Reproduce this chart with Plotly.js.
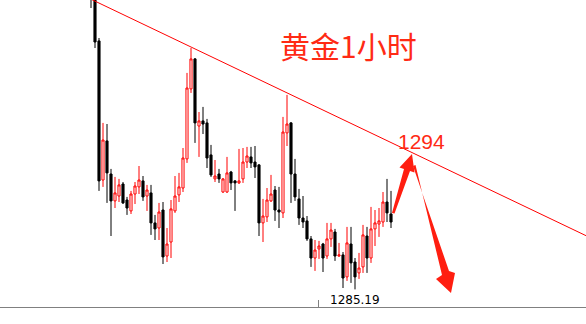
<!DOCTYPE html>
<html>
<head>
<meta charset="utf-8">
<script src="https://cdn.plot.ly/plotly-3.0.1.min.js"></script>
<style>html,body{margin:0;padding:0;background:#fff;}#chart{width:586px;height:324px;}</style>
</head>
<body>
<div id="chart"></div>
<script>
// Gold, 1-hour candles
const opens = [1304.98,1304.10,1301.34,1292.30,1294.84,1292.69,1290.94,1291.26,1292.04,1291.00,1290.29,1291.39,1291.85,1292.24,1291.26,1291.46,1289.51,1289.18,1290.35,1287.36,1288.27,1290.29,1291.33,1291.78,1293.67,1298.22,1300.17,1295.81,1296.14,1296.01,1293.93,1292.37,1292.69,1291.52,1291.52,1292.82,1292.24,1292.11,1292.37,1293.47,1293.80,1293.47,1293.28,1289.51,1289.90,1290.94,1291.65,1290.35,1290.16,1295.36,1296.01,1292.69,1291.07,1289.83,1289.64,1288.47,1287.23,1287.82,1288.14,1287.36,1288.47,1288.92,1287.36,1287.43,1286.00,1288.14,1286.97,1286.26,1286.65,1288.66,1287.23,1289.12,1289.44,1289.57,1290.87,1290.09];
const highs = [1305.63,1304.30,1301.53,1296.01,1295.94,1293.02,1292.50,1292.37,1292.17,1291.20,1291.59,1292.17,1293.21,1292.56,1291.98,1291.98,1290.03,1290.81,1290.87,1289.18,1291.00,1292.56,1292.76,1294.38,1299.26,1300.88,1300.23,1296.72,1297.05,1296.27,1294.58,1293.60,1293.02,1292.43,1293.80,1292.89,1292.30,1294.32,1294.38,1294.45,1294.45,1294.51,1293.34,1291.07,1291.78,1292.63,1291.91,1291.85,1296.40,1297.83,1296.07,1293.67,1291.72,1291.26,1289.96,1288.66,1288.40,1288.34,1288.21,1289.51,1289.51,1289.12,1288.21,1287.62,1289.25,1289.25,1287.23,1287.56,1289.38,1289.25,1290.55,1290.35,1290.48,1291.52,1292.37,1291.59];
const lows = [1303.48,1300.88,1291.59,1291.85,1290.81,1288.66,1290.48,1290.87,1290.74,1290.03,1290.09,1290.74,1291.39,1290.94,1290.29,1288.73,1288.40,1288.40,1286.84,1286.97,1287.23,1290.16,1290.87,1291.52,1293.41,1297.96,1294.71,1293.80,1295.29,1293.08,1292.50,1292.17,1292.11,1291.46,1291.46,1291.65,1290.29,1292.04,1292.11,1293.08,1293.08,1292.43,1288.66,1288.27,1289.57,1290.87,1289.64,1289.18,1289.83,1294.51,1290.81,1290.94,1289.38,1289.18,1288.34,1286.65,1286.39,1287.17,1286.32,1287.17,1287.95,1287.04,1287.30,1285.28,1285.74,1285.61,1285.19,1285.87,1286.26,1286.26,1286.91,1288.01,1288.60,1289.25,1289.57,1289.18];
const closes = [1304.20,1301.27,1292.24,1294.90,1292.76,1290.94,1291.46,1291.98,1290.81,1290.48,1291.39,1291.91,1292.30,1291.20,1291.65,1289.51,1289.12,1290.22,1287.30,1288.14,1290.42,1291.26,1291.85,1293.73,1298.28,1300.17,1296.01,1296.14,1295.94,1293.73,1292.63,1292.56,1292.37,1292.37,1292.76,1292.11,1292.11,1292.24,1293.47,1293.86,1293.41,1293.15,1289.51,1289.96,1291.00,1291.39,1290.35,1290.22,1295.42,1295.94,1292.69,1291.20,1289.83,1289.57,1288.47,1287.23,1287.75,1288.01,1287.23,1288.47,1289.05,1287.36,1287.43,1285.93,1288.21,1286.91,1286.00,1286.58,1288.73,1287.23,1289.12,1289.51,1289.64,1290.87,1290.16,1289.57];
const trendStart = [0, 1304.05];     // [bar index, price]
const trendEnd = [124, 1288.65];
const targetLevel = "1294";
const titleText = "黄金1小时";
const separatorBar = 56.75;

const idx = opens.map((_, i) => i);
const minLow = Math.min(...lows);
const minIdx = lows.indexOf(minLow);

const W = 586, PH = 307;
const P = (x, y) => (x / W).toFixed(5) + ',' + (1 - y / PH).toFixed(5);
const poly = pts => 'M ' + pts.map(p => P(p[0], p[1])).join(' L ') + ' Z';

const trace = {
  type: 'candlestick', x: idx, open: opens, high: highs, low: lows, close: closes,
  increasing: {line: {color: '#ff0000', width: 1}, fillcolor: '#ffffff'},
  decreasing: {line: {color: '#000000', width: 1}, fillcolor: '#000000'},
  whiskerwidth: 0, hoverinfo: 'skip', showlegend: false
};

const layout = {
  width: 586, height: 324,
  margin: {l: 0, r: 0, t: 0, b: 17},
  paper_bgcolor: '#ffffff', plot_bgcolor: '#ffffff',
  boxgap: 0.25,
  xaxis: {range: [-22.75, 123.75], showgrid: false, zeroline: false, showticklabels: false,
          showline: true, linecolor: '#808080', linewidth: 1,
          ticks: 'inside', tickvals: [separatorBar], ticklen: 7, tickcolor: '#808080',
          rangeslider: {visible: false}, fixedrange: true},
  yaxis: {range: [1284.045, 1304], showgrid: false, zeroline: false, showticklabels: false,
          showline: false, fixedrange: true},
  shapes: [
    {type: 'line', xref: 'x', yref: 'y', x0: trendStart[0], y0: trendStart[1],
     x1: trendEnd[0], y1: trendEnd[1], line: {color: '#ff0000', width: 1}},
    {type: 'path', xref: 'paper', yref: 'paper', fillcolor: '#ff1e10', line: {width: 0},
     path: poly([[392,213],[404,169],[399.5,167.5],[412,154],[414.5,172.5],[410,171],[394.5,213.5]])},
    {type: 'path', xref: 'paper', yref: 'paper', fillcolor: '#ff1e10', line: {width: 0},
     path: poly([[413,166],[449,271],[455,273],[451,293],[436,279],[442,275],[415.5,165]])}
  ],
  annotations: [
    {xref: 'paper', yref: 'paper', x: 348 / W, y: 1 - 45 / PH, xanchor: 'center', yanchor: 'middle',
     text: titleText, showarrow: false,
     font: {family: 'Noto Sans CJK SC, sans-serif', size: 30, color: '#ff2a14'}},
    {xref: 'paper', yref: 'paper', x: 421 / W, y: 1 - 141 / PH, xanchor: 'center', yanchor: 'middle',
     text: targetLevel, showarrow: false,
     font: {family: 'Liberation Sans, Arial, sans-serif', size: 21, color: '#ff2a14'}},
    {xref: 'x', yref: 'paper', x: minIdx, y: 1 - 300 / PH, xanchor: 'center', yanchor: 'middle',
     text: minLow.toFixed(2), showarrow: false,
     font: {family: 'DejaVu Sans, sans-serif', size: 12, color: '#000000'}}
  ]
};

Plotly.newPlot('chart', [trace], layout, {staticPlot: true, displayModeBar: false});
</script>
</body>
</html>
